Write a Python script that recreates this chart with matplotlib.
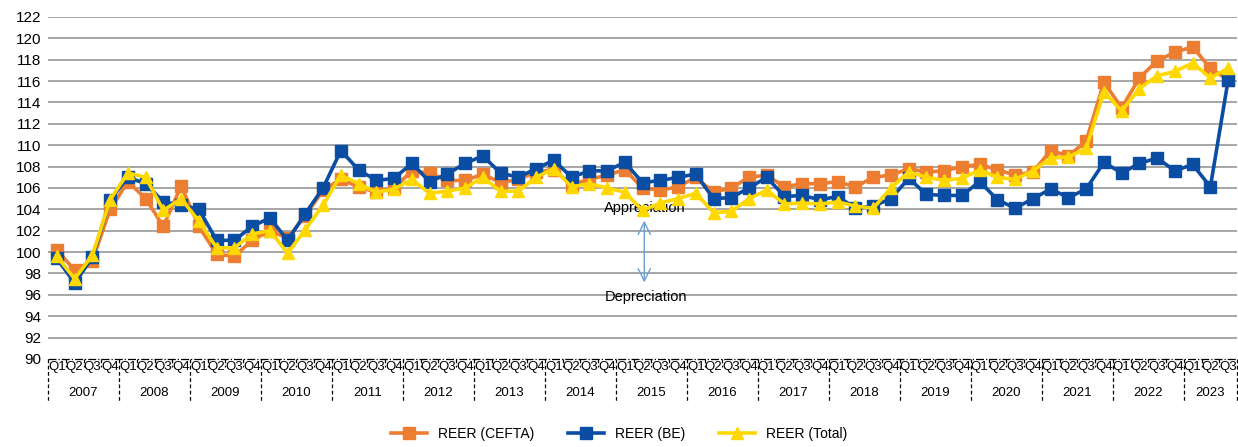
import numpy as np
import matplotlib
matplotlib.use('Agg')
import matplotlib.pyplot as plt
import matplotlib.transforms as mtransforms

plt.rcParams['font.family'] = ['Liberation Sans', 'DejaVu Sans']

years = [str(y) for y in range(2007, 2024)]
quarters = ['Q1', 'Q2', 'Q3', 'Q4']

reer_cefta = [100.2, 98.3, 99.2, 104.0,
              106.6, 105.0, 102.4, 106.2,
              102.4, 99.8, 99.6, 101.1,
              102.0, 101.3, 103.4, 105.8,
              106.8, 106.1, 105.6, 106.0,
              107.6, 107.4, 106.7, 106.7,
              107.3, 106.5, 106.8, 107.5,
              107.7, 106.3, 106.8, 107.2,
              107.7, 106.0, 105.8, 106.1,
              107.0, 105.6, 106.0, 107.0,
              107.2, 106.1, 106.4, 106.4,
              106.6, 106.1, 107.0, 107.2,
              107.8, 107.5, 107.6, 108.0,
              108.2, 107.7, 107.2, 107.5,
              109.5, 109.0, 110.4, 115.9,
              113.5, 116.3, 117.9, 118.7,
              119.2, 117.2, 116.1]

reer_be = [99.4, 97.1, 99.5, 104.9,
           107.0, 106.4, 104.7, 104.4,
           104.0, 101.1, 101.1, 102.4,
           103.2, 101.1, 103.6, 106.0,
           109.5, 107.7, 106.7, 106.9,
           108.3, 106.6, 107.3, 108.3,
           109.0, 107.4, 107.0, 107.8,
           108.6, 107.0, 107.6, 107.6,
           108.4, 106.5, 106.7, 107.0,
           107.3, 105.0, 105.1, 106.0,
           107.0, 105.2, 105.3, 104.9,
           105.2, 104.1, 104.3, 105.0,
           106.9, 105.4, 105.3, 105.3,
           106.6, 104.9, 104.1, 105.0,
           105.9, 105.1, 105.9, 108.4,
           107.4, 108.3, 108.8, 107.6,
           108.2, 106.1, 116.1]

reer_total = [99.6, 97.5, 99.7, 104.9,
              107.4, 107.0, 103.9, 105.0,
              102.9, 100.4, 100.4, 101.7,
              102.0, 99.9, 102.1, 104.4,
              107.2, 106.4, 105.6, 105.9,
              106.8, 105.5, 105.7, 106.0,
              107.0, 105.7, 105.7, 107.0,
              107.8, 106.1, 106.4, 106.0,
              105.6, 103.9, 104.6, 105.0,
              105.5, 103.7, 103.8, 105.0,
              105.8, 104.5, 104.6, 104.5,
              104.7, 104.3, 104.1, 106.0,
              107.5, 107.0, 106.7, 106.9,
              107.7, 107.0, 106.8, 107.6,
              108.8, 108.9, 109.7, 115.0,
              113.2, 115.3, 116.5, 116.9,
              117.7, 116.3, 117.2]

n = len(reer_cefta)
x = np.arange(n)

fig = plt.figure(figsize=(12.38, 4.47), dpi=100)
ax = fig.add_axes([0.0388, 0.197, 0.9604, 0.765])

ax.plot(x, reer_cefta, color='#ED7D31', lw=2.6, marker='s', ms=8,
        label='REER (CEFTA)', zorder=3)
ax.plot(x, reer_be, color='#0A4DA2', lw=2.6, marker='s', ms=8,
        label='REER (BE)', zorder=4)
ax.plot(x, reer_total, color='#FFD800', lw=2.6, marker='^', ms=9,
        label='REER (Total)', zorder=5)

ax.set_xlim(-0.5, n - 0.5)
ax.set_ylim(90, 122)
ax.set_yticks(np.arange(90, 123, 2))
ax.tick_params(axis='y', length=0, labelsize=11, pad=5)
ax.set_xticks([])
for s in ax.spines.values():
    s.set_visible(False)
for v in np.arange(92, 123, 2):
    ax.axhline(v, color='#a6a6a6', lw=1.4, zorder=1)

# multi-level category axis
trans = mtransforms.blended_transform_factory(ax.transData, ax.transAxes)
ax.plot([-0.5, n - 0.5], [0, 0], transform=trans, color='black', lw=0.9,
        ls='-.', clip_on=False)
for i in range(n + 1):
    xb = i - 0.5
    if i % 4 == 0 or i == n:
        ax.plot([xb, xb], [0, -0.125], transform=trans, color='black', lw=0.9,
                ls=(0, (3, 2)), clip_on=False)
    else:
        ax.plot([xb, xb], [0, -0.025], transform=trans, color='black', lw=0.9,
                ls=(0, (3, 2)), clip_on=False)
for i in range(n):
    ax.text(i, -0.025, quarters[i % 4], transform=trans, ha='center',
            va='center', fontsize=9.5)
for k, yr in enumerate(years):
    first = k * 4
    last = min(first + 3, n - 1)
    ax.text((first + last) / 2, -0.1, yr, transform=trans, ha='center',
            va='center', fontsize=9.5)

# appreciation / depreciation marker
ax.annotate('', xy=(33.1, 103.2), xytext=(33.1, 96.9),
            arrowprops=dict(arrowstyle='<->', color='#6A9FD4', lw=1,
                            mutation_scale=22))
ax.text(33.1, 104.1, 'Appreciation', ha='center', va='center', fontsize=10.5)
ax.text(33.2, 95.8, 'Depreciation', ha='center', va='center', fontsize=10.5)

fig.legend(loc='center', bbox_to_anchor=(0.5, 0.03), ncol=3, frameon=False,
           fontsize=10, handlelength=2.6, columnspacing=2.4)

fig.savefig('out.png', dpi=100)
